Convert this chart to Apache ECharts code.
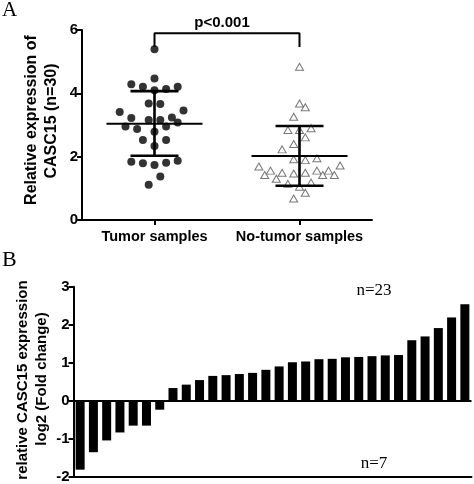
<!DOCTYPE html>
<html><head><meta charset="utf-8">
<script src="https://cdn.jsdelivr.net/npm/echarts@6/dist/echarts.min.js"></script>
<style>html,body{margin:0;padding:0;background:#fff}#c{width:474px;height:484px}</style>
</head><body><div id="c"></div>
<script>
// ---- Panel A data ----
const groupNames = ['Tumor samples', 'No-tumor samples'];
const tumorValues = [5.39,4.47,4.29,4.21,4.10,4.14,4.21,3.68,3.66,3.41,3.46,3.22,3.16,3.16,3.24,3.08,2.95,2.87,2.79,2.95,2.53,2.53,2.34,1.84,1.79,1.74,1.81,1.87,1.37,1.11];
const tumorJitter = [0,0,-0.16,-0.08,0,0.08,0.16,-0.04,0.04,-0.24,0.20,-0.16,-0.04,0.04,0.12,0.16,-0.20,-0.12,0,0.08,-0.08,0.08,0,-0.16,-0.08,0,0.08,0.16,0.04,-0.04];
const normalValues = [4.84,3.68,3.56,3.26,2.84,2.84,2.90,2.61,2.40,2.23,1.92,1.89,1.95,1.72,1.69,1.56,1.42,1.49,1.47,1.49,1.56,1.56,1.42,1.42,1.30,1.14,1.05,1.18,0.86,0.68];
const normalJitter = [0,0,0.04,-0.04,-0.08,0,0.08,0.04,-0.04,-0.12,-0.04,0.04,0.12,0.28,-0.28,-0.20,-0.24,-0.12,-0.04,0.04,0.12,0.20,0.16,0.24,-0.16,-0.08,0,0.08,0.04,-0.04];
const tumorStats = [3.04, 2.03, 4.07];   // mean, mean-SD, mean+SD
const normalStats = [2.02, 1.08, 2.97];
const bracketLevels = [5.46, 5.90];      // bracket foot, bracket top
const pLabel = 'p<0.001';
const yTicksA = [0, 2, 4, 6];

// ---- Panel B data ----
const foldValues = [-1.82,-1.36,-1.05,-0.84,-0.66,-0.66,-0.24,0.33,0.42,0.54,0.65,0.67,0.70,0.73,0.81,0.90,1.01,1.03,1.09,1.10,1.14,1.15,1.17,1.19,1.20,1.59,1.69,1.91,2.19,2.54];
const sampleIds = foldValues.map((_, i) => String(i + 1));
const yTicksB = [-2, -1, 0, 1, 2, 3];
const upCount = 'n=23', downCount = 'n=7';

const chart = echarts.init(document.getElementById('c'), null, {renderer: 'canvas'});
const SANS = '"Liberation Sans", Arial, sans-serif';
const SERIF = '"Liberation Serif", "Times New Roman", serif';
const axisLine = {show: true, onZero: false, lineStyle: {color: '#000', width: 2}};
const axisTick = {show: true, length: 5, lineStyle: {color: '#000', width: 2}};
const tickLabel = (size, margin) => ({color: '#000', fontFamily: SANS, fontWeight: 'bold', fontSize: size, margin: margin});

chart.setOption({
  animation: false,
  backgroundColor: '#fff',
  grid: [
    {left: 82, top: 30, width: 290, height: 190},
    {left: 73.5, top: 286.7, width: 398, height: 190}
  ],
  xAxis: [
    {type: 'category', gridIndex: 0, data: groupNames, axisLine: axisLine,
     axisTick: {show: true, alignWithLabel: true, length: 5, lineStyle: {color: '#000', width: 2}},
     axisLabel: Object.assign(tickLabel(14.5, 9), {interval: 0, hideOverlap: false}), splitLine: {show: false}},
    {type: 'value', gridIndex: 0, min: 0.5, max: 2.5, show: false},
    {type: 'category', gridIndex: 1, data: sampleIds, axisLine: axisLine,
     axisTick: {show: false}, axisLabel: {show: false}, splitLine: {show: false}}
  ],
  yAxis: [
    {type: 'value', gridIndex: 0, min: yTicksA[0], max: yTicksA[yTicksA.length - 1], interval: 2,
     axisLine: axisLine, axisTick: axisTick, axisLabel: tickLabel(15, 4), splitLine: {show: false}},
    {type: 'value', gridIndex: 1, min: yTicksB[0], max: yTicksB[yTicksB.length - 1], interval: 1,
     axisLine: axisLine, axisTick: axisTick, axisLabel: tickLabel(15, 4), splitLine: {show: false}}
  ],
  series: [
    {type: 'scatter', xAxisIndex: 1, yAxisIndex: 0, symbol: 'circle', symbolSize: 8,
     itemStyle: {color: '#000'}, z: 3,
     data: tumorValues.map((v, i) => [1 + tumorJitter[i], v])},
    {type: 'scatter', xAxisIndex: 1, yAxisIndex: 0, symbol: 'triangle', symbolSize: [8, 7],
     itemStyle: {color: '#fff', borderColor: '#555', borderWidth: 1}, z: 3,
     data: normalValues.map((v, i) => [2 + normalJitter[i], v])},
    {type: 'custom', xAxisIndex: 1, yAxisIndex: 0, z: 5,
     data: [[1].concat(tumorStats), [2].concat(normalStats)],
     renderItem: function (params, api) {
       const x = api.value(0);
       const pm = api.coord([x, api.value(1)]);
       const pl = api.coord([x, api.value(2)]);
       const ph = api.coord([x, api.value(3)]);
       const s = {stroke: '#000', lineWidth: 2.6};
       return {type: 'group', children: [
         {type: 'line', shape: {x1: pm[0] - 48, y1: pm[1], x2: pm[0] + 48, y2: pm[1]}, style: {stroke: '#000', lineWidth: 2}},
         {type: 'line', shape: {x1: pl[0], y1: pl[1], x2: ph[0], y2: ph[1]}, style: s},
         {type: 'line', shape: {x1: pl[0] - 24, y1: pl[1], x2: pl[0] + 24, y2: pl[1]}, style: s},
         {type: 'line', shape: {x1: ph[0] - 24, y1: ph[1], x2: ph[0] + 24, y2: ph[1]}, style: s}
       ]};
     }},
    {type: 'line', xAxisIndex: 1, yAxisIndex: 0, symbol: 'none', z: 4,
     lineStyle: {color: '#000', width: 2},
     data: [[1, bracketLevels[0]], [1, bracketLevels[1]], [2, bracketLevels[1]], [2, bracketLevels[0]]]},
    {type: 'bar', xAxisIndex: 2, yAxisIndex: 1, barWidth: 9,
     itemStyle: {color: '#000'}, data: foldValues,
     markLine: {silent: true, symbol: ['none', 'none'], label: {show: false},
       lineStyle: {color: '#000', width: 2, type: 'solid'}, data: [{yAxis: 0}]}}
  ],
  graphic: [
    {type: 'text', x: 2, y: 0, style: {text: 'A', font: '21px ' + SERIF, fill: '#000'}},
    {type: 'text', x: 2, y: 249, style: {text: 'B', font: '22px ' + SERIF, fill: '#000'}},
    {type: 'text', x: 222, y: 23, style: {text: pLabel, font: 'bold 15px ' + SANS, fill: '#000', align: 'center', verticalAlign: 'middle', textAlign: 'center', textVerticalAlign: 'middle'}},
    {type: 'text', x: 32, y: 120, rotation: Math.PI / 2, style: {text: 'Relative expression of', font: 'bold 16px ' + SANS, fill: '#000', align: 'center', verticalAlign: 'middle', textAlign: 'center', textVerticalAlign: 'middle'}},
    {type: 'text', x: 52, y: 121, rotation: Math.PI / 2, style: {text: 'CASC15 (n=30)', font: 'bold 16px ' + SANS, fill: '#000', align: 'center', verticalAlign: 'middle', textAlign: 'center', textVerticalAlign: 'middle'}},
    {type: 'text', x: 23, y: 380, rotation: Math.PI / 2, style: {text: 'relative CASC15 expression', font: 'bold 15px ' + SANS, fill: '#000', align: 'center', verticalAlign: 'middle', textAlign: 'center', textVerticalAlign: 'middle'}},
    {type: 'text', x: 42, y: 379, rotation: Math.PI / 2, style: {text: 'log2 (Fold change)', font: 'bold 15px ' + SANS, fill: '#000', align: 'center', verticalAlign: 'middle', textAlign: 'center', textVerticalAlign: 'middle'}},
    {type: 'text', x: 374, y: 291, style: {text: upCount, font: '17px ' + SERIF, fill: '#000', align: 'center', verticalAlign: 'middle', textAlign: 'center', textVerticalAlign: 'middle'}},
    {type: 'text', x: 374, y: 464, style: {text: downCount, font: '17px ' + SERIF, fill: '#000', align: 'center', verticalAlign: 'middle', textAlign: 'center', textVerticalAlign: 'middle'}}
  ]
});
</script>
</body></html>
